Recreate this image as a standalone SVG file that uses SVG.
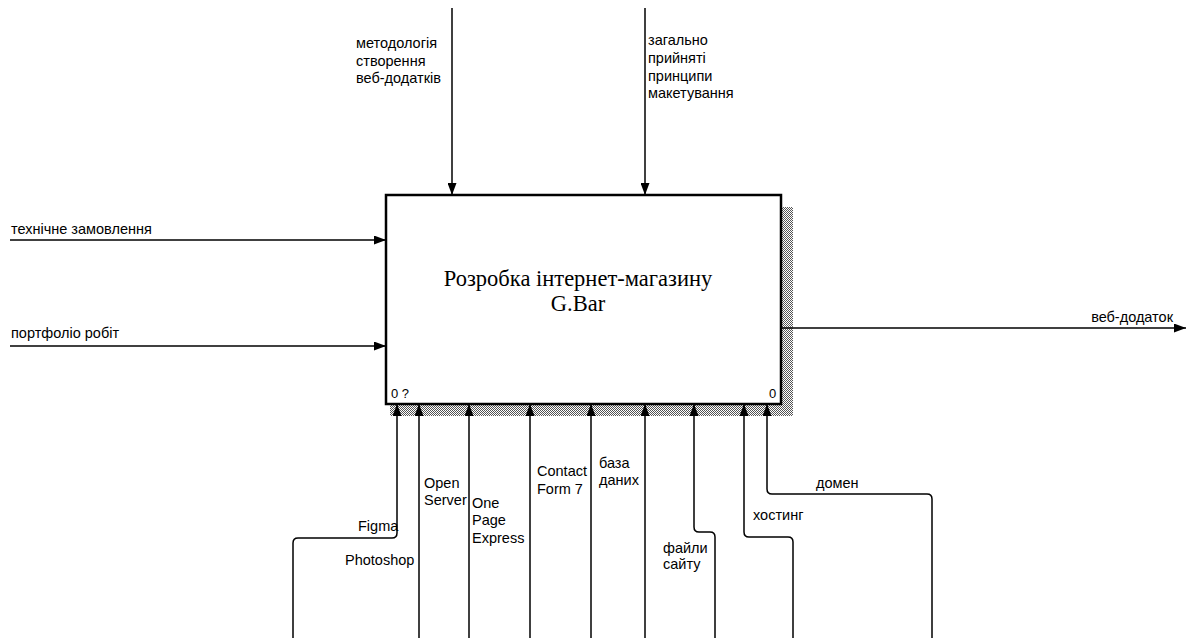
<svg xmlns="http://www.w3.org/2000/svg" width="1194" height="638" viewBox="0 0 1194 638">
<style>
.c{fill:none;stroke:#000;stroke-width:1.5}
.t{font-family:"Liberation Sans",Arial,sans-serif;font-size:14.5px;fill:#000}
.n{font-family:"Liberation Sans",Arial,sans-serif;font-size:13px;fill:#000}
.title{font-family:"Liberation Serif","Times New Roman",serif;font-size:22.5px;fill:#000;text-anchor:middle}
</style>
<defs>
<pattern id="hatch" width="2" height="2" patternUnits="userSpaceOnUse">
<rect width="2" height="2" fill="#fff"/>
<rect width="1" height="1" fill="#555"/>
<rect x="1" y="1" width="1" height="1" fill="#555"/>
</pattern>
<marker id="ah" markerWidth="12" markerHeight="9" refX="12" refY="4.5" orient="auto" markerUnits="userSpaceOnUse">
<path d="M0,0 L12,4.5 L0,9 Z" fill="#000"/>
</marker>
</defs>
<rect width="1194" height="638" fill="#fff"/>
<g id="node-A0">
<rect x="781" y="207" width="12" height="209" fill="url(#hatch)"/>
<rect x="390" y="404" width="403" height="12" fill="url(#hatch)"/>
<rect x="386" y="195" width="395" height="209" fill="#fff" stroke="#000" stroke-width="2.5"/>
<text class="title" x="578" y="286">Розробка інтернет-магазину</text>
<text class="title" x="578" y="311">G.Bar</text>
<text class="n" x="391" y="398">0 ?</text>
<text class="n" x="769" y="398">0</text>
</g>
<g id="connectors">
<path class="c" d="M452,8 V195" marker-end="url(#ah)"/>
<path class="c" d="M645,8 V195" marker-end="url(#ah)"/>
<path class="c" d="M10,240 H386" marker-end="url(#ah)"/>
<path class="c" d="M10,346 H386" marker-end="url(#ah)"/>
<path class="c" d="M781,328 H1186" marker-end="url(#ah)"/>
<path class="c" d="M293,638 V543 Q293,538 298,538 H392 Q397,538 397,533 V404" marker-end="url(#ah)"/>
<path class="c" d="M419,638 V404" marker-end="url(#ah)"/>
<path class="c" d="M469,638 V404" marker-end="url(#ah)"/>
<path class="c" d="M530,638 V404" marker-end="url(#ah)"/>
<path class="c" d="M591,638 V404" marker-end="url(#ah)"/>
<path class="c" d="M645,638 V404" marker-end="url(#ah)"/>
<path class="c" d="M715,638 V537 Q715,532 710,532 H699 Q694,532 694,527 V404" marker-end="url(#ah)"/>
<path class="c" d="M793,638 V542 Q793,537 788,537 H749 Q744,537 744,532 V404" marker-end="url(#ah)"/>
<path class="c" d="M932,638 V499 Q932,494 927,494 H772 Q767,494 767,489 V404" marker-end="url(#ah)"/>
</g>
<g id="labels">
<text class="t" x="356" y="48">методологія</text>
<text class="t" x="356" y="66">створення</text>
<text class="t" x="356" y="83">веб-додатків</text>
<text class="t" x="648" y="45">загально</text>
<text class="t" x="648" y="63">прийняті</text>
<text class="t" x="648" y="81">принципи</text>
<text class="t" x="648" y="98">макетування</text>
<text class="t" x="11" y="234">технічне замовлення</text>
<text class="t" x="11" y="338">портфоліо робіт</text>
<text class="t" x="1173" y="322" text-anchor="end">веб-додаток</text>
<text class="t" x="358" y="531">Figma</text>
<text class="t" x="345" y="565">Photoshop</text>
<text class="t" x="424" y="488">Open</text>
<text class="t" x="424" y="505">Server</text>
<text class="t" x="472" y="508">One</text>
<text class="t" x="472" y="525">Page</text>
<text class="t" x="472" y="543">Express</text>
<text class="t" x="537" y="476">Contact</text>
<text class="t" x="537" y="494">Form 7</text>
<text class="t" x="599" y="468">база</text>
<text class="t" x="599" y="485">даних</text>
<text class="t" x="663" y="553">файли</text>
<text class="t" x="663" y="569">сайту</text>
<text class="t" x="753" y="520">хостинг</text>
<text class="t" x="816" y="488">домен</text>
</g>
</svg>
